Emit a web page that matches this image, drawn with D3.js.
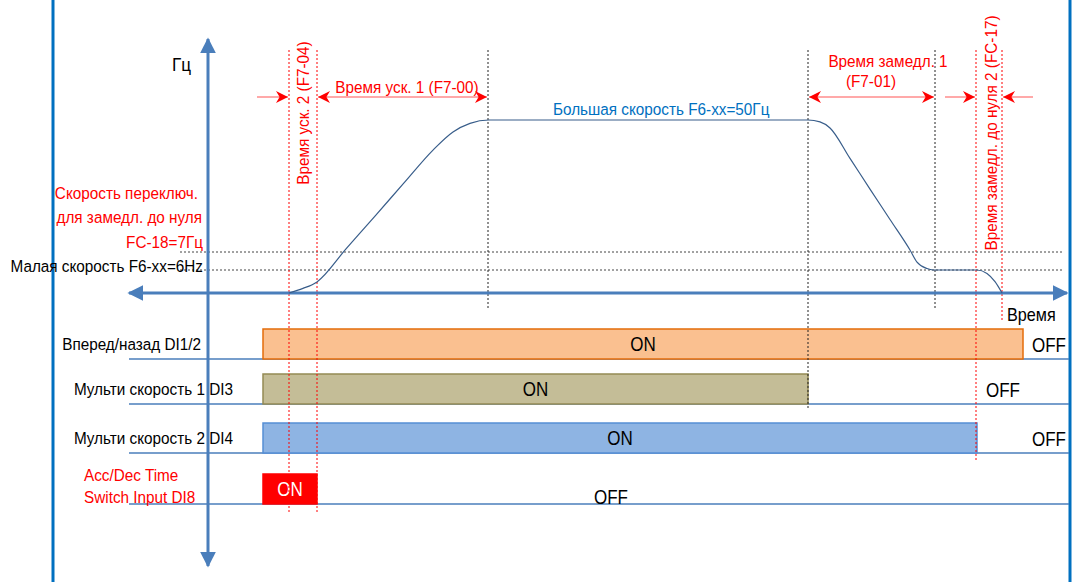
<!DOCTYPE html>
<html>
<head>
<meta charset="utf-8">
<script src="https://cdn.jsdelivr.net/npm/d3@7"></script>
<style>
  body { margin: 0; background: #fff; }
  svg text { font-family: "Liberation Sans", Arial, sans-serif; }
</style>
</head>
<body>
<div id="chart"></div>
<script>
var width = 1081, height = 582;

// time axis in arbitrary units, frequency in Hz
var curveTime = [81, 95, 109, 138, 167, 196, 225, 245, 262, 281,
                 600, 612, 622, 642, 662, 682, 702, 709, 719, 725, 769, 779, 787, 794];
var curveHz   = [0, 1.2, 2.9, 8.0, 18.7, 29.5, 40.2, 46.1, 48.9, 50,
                 50, 49.4, 47.4, 37.5, 27.5, 17.6, 7.65, 6.44, 6.08, 6, 6, 5.1, 2.95, 0];

var levelHz = [7, 6];
var levelText = ["FC-18=7Гц", "Малая скорость F6-xx=6Hz"];

var markerTime = [81, 109, 280, 600, 727, 768, 794];
var markerRed  = [true, true, false, false, false, true, true];
var markerRow  = [3, 3, -1, 1, -1, 2, -1];

var rowLabels = ["Вперед/назад DI1/2", "Мульти скорость 1 DI3", "Мульти скорость 2 DI4", "Acc/Dec Time|Switch Input DI8"];
var onStart = [55, 55, 55, 55];
var onEnd   = [815, 600, 769, 109];
var offTime = [841, 795, 841, 403];

var rowFill   = ["#fac090", "#c4bd97", "#8eb4e3", "#ff0000"];
var rowStroke = ["#e46c0a", "#948a54", "#558ed5", "#ff0000"];

var x = d3.scaleLinear().domain([0, 860]).range([208, 1068]);
var y = d3.scaleLinear().domain([0, 6, 7, 50]).range([293, 270, 252, 120]);
var rowY = d3.scaleOrdinal().domain(d3.range(rowLabels.length)).range([359, 404, 453, 504]);

var axisColor = "#4a7ebb";
var red = "#ff0000";

var svg = d3.select("#chart").append("svg")
    .attr("width", width)
    .attr("height", height);

// narrow looking text: squeeze a regular face horizontally
function label(px, py, str, anchor, color, rot, size, squeeze) {
    return svg.append("text")
        .attr("transform", "translate(" + px + "," + py + ")" + (rot ? " rotate(-90)" : "") +
            " scale(" + (squeeze || 0.9) + ",1)")
        .style("text-anchor", anchor || "start")
        .style("font-size", (size || 17) + "px")
        .style("fill", color || "#000")
        .text(str);
}

var defs = svg.append("defs");
defs.append("marker")
    .attr("id", "redArrow")
    .attr("viewBox", "0 0 10 10")
    .attr("refX", 10).attr("refY", 5)
    .attr("markerWidth", 12).attr("markerHeight", 12)
    .attr("markerUnits", "userSpaceOnUse")
    .attr("orient", "auto-start-reverse")
    .append("path")
    .attr("d", "M0,0 L10,5 L0,10 L3,5 Z")
    .attr("fill", red);
defs.append("marker")
    .attr("id", "axisArrow")
    .attr("viewBox", "0 0 10 10")
    .attr("refX", 9).attr("refY", 5)
    .attr("markerWidth", 16).attr("markerHeight", 16)
    .attr("markerUnits", "userSpaceOnUse")
    .attr("orient", "auto-start-reverse")
    .append("path")
    .attr("d", "M0,0 L10,5 L0,10 Z")
    .attr("fill", axisColor);

// side frame
svg.append("line").attr("x1", 53).attr("x2", 53).attr("y1", 0).attr("y2", height)
    .style("stroke", "#0070c0").style("stroke-width", 3);
svg.append("line").attr("x1", 1070).attr("x2", 1070).attr("y1", 0).attr("y2", height)
    .style("stroke", "#0070c0").style("stroke-width", 3);

// signal rows ------------------------------
rowLabels.forEach(function (name, i) {
    var base = rowY(i);
    svg.append("line")
        .attr("x1", 129).attr("x2", 1069)
        .attr("y1", base).attr("y2", base)
        .style("stroke", axisColor).style("stroke-width", 1.5);
    svg.append("rect")
        .attr("x", x(onStart[i]))
        .attr("y", base - 30)
        .attr("width", x(onEnd[i]) - x(onStart[i]))
        .attr("height", 30)
        .style("fill", rowFill[i])
        .style("stroke", rowStroke[i])
        .style("stroke-width", 1.5);
    label((x(onStart[i]) + x(onEnd[i])) / 2, base - 8, "ON", "middle",
        i == 3 ? "#fff" : "#000", false, 20, 0.85);
    label(x(offTime[i]), base - (i == 3 ? 0 : 7), "OFF", "middle", "#000", false, 20, 0.85);
    var parts = name.split("|");
    if (parts.length == 1) {
        label(i == 0 ? 201 : 233, base - 9, name, "end");
    } else {
        parts.forEach(function (p, k) {
            label(84, base - 23 + k * 22, p, "start", red);
        });
    }
});

// frequency levels ------------------------------
svg.selectAll("line.level").data(levelHz).enter().append("line")
    .attr("class", "level")
    .attr("x1", 180).attr("x2", 1063)
    .attr("y1", function (d) { return y(d); })
    .attr("y2", function (d) { return y(d); })
    .style("stroke", "#444").style("stroke-width", 1)
    .style("stroke-dasharray", "2,2");

label(203, y(levelHz[1]) + 2, levelText[1], "end");
label(203, y(levelHz[0]) - 4, levelText[0], "end", red);
label(202, 223, "для замедл. до нуля", "end", red);
label(198, 199, "Скорость переключ.", "end", red);

// vertical time markers ------------------------------
svg.selectAll("line.marker").data(markerTime).enter().append("line")
    .attr("class", "marker")
    .attr("x1", function (d) { return x(d); })
    .attr("x2", function (d) { return x(d); })
    .attr("y1", 50)
    .attr("y2", function (d, i) {
        var r = markerRow[i];
        if (r < 0) return markerRed[i] ? y(0) + 27 : y(0) + 17;
        return rowY(r) + (r == 2 ? 9 : (r == 1 ? 4 : 8));
    })
    .style("stroke", function (d, i) { return markerRed[i] ? red : "#222"; })
    .style("stroke-width", 1)
    .style("stroke-dasharray", "2,2");

// axes ------------------------------
svg.append("line")
    .attr("x1", x(0)).attr("x2", x(0)).attr("y1", 566).attr("y2", 39)
    .attr("marker-start", "url(#axisArrow)").attr("marker-end", "url(#axisArrow)")
    .style("stroke", axisColor).style("stroke-width", 3);
svg.append("line")
    .attr("x1", 129).attr("x2", 1067).attr("y1", y(0)).attr("y2", y(0))
    .attr("marker-start", "url(#axisArrow)").attr("marker-end", "url(#axisArrow)")
    .style("stroke", axisColor).style("stroke-width", 3);

label(172, 71, "Гц", "start", "#000", false, 19);
label(1007, 321, "Время", "start", "#000", false, 18);

// speed curve ------------------------------
var speedLine = d3.line()
    .x(function (d, i) { return x(curveTime[i]); })
    .y(function (d) { return y(d); })
    .curve(d3.curveMonotoneX);

svg.append("path").datum(curveHz)
    .attr("d", speedLine)
    .style("fill", "none")
    .style("stroke", "#385d8a")
    .style("stroke-width", 1.2);

label(553, 115, "Большая скорость F6-xx=50Гц", "start", "#0070c0");

// time annotations ------------------------------
var arrowY = 97;
function timeArrow(t1, t2, both) {
    var l = svg.append("line")
        .attr("x1", x(t1)).attr("x2", x(t2))
        .attr("y1", arrowY).attr("y2", arrowY)
        .style("stroke", "#ff8c8c").style("stroke-width", 1.5)
        .attr("marker-end", "url(#redArrow)");
    if (both) l.attr("marker-start", "url(#redArrow)");
}
timeArrow(49, 80, false);
timeArrow(110, 279, true);
timeArrow(601, 726, true);
timeArrow(737, 767, false);
timeArrow(825, 795, false);

label(x(199), 93, "Время уск. 1 (F7-00)", "middle", red);
label(x(680), 67, "Время замедл. 1", "middle", red);
label(x(663), 87, "(F7-01)", "middle", red);

label(x(95) + 6, 113, "Время уск. 2 (F7-04)", "middle", red, true);
label(x(781) + 8, 133, "Время замедл. до нуля 2 (FC-17)", "middle", red, true);
</script>
</body>
</html>
